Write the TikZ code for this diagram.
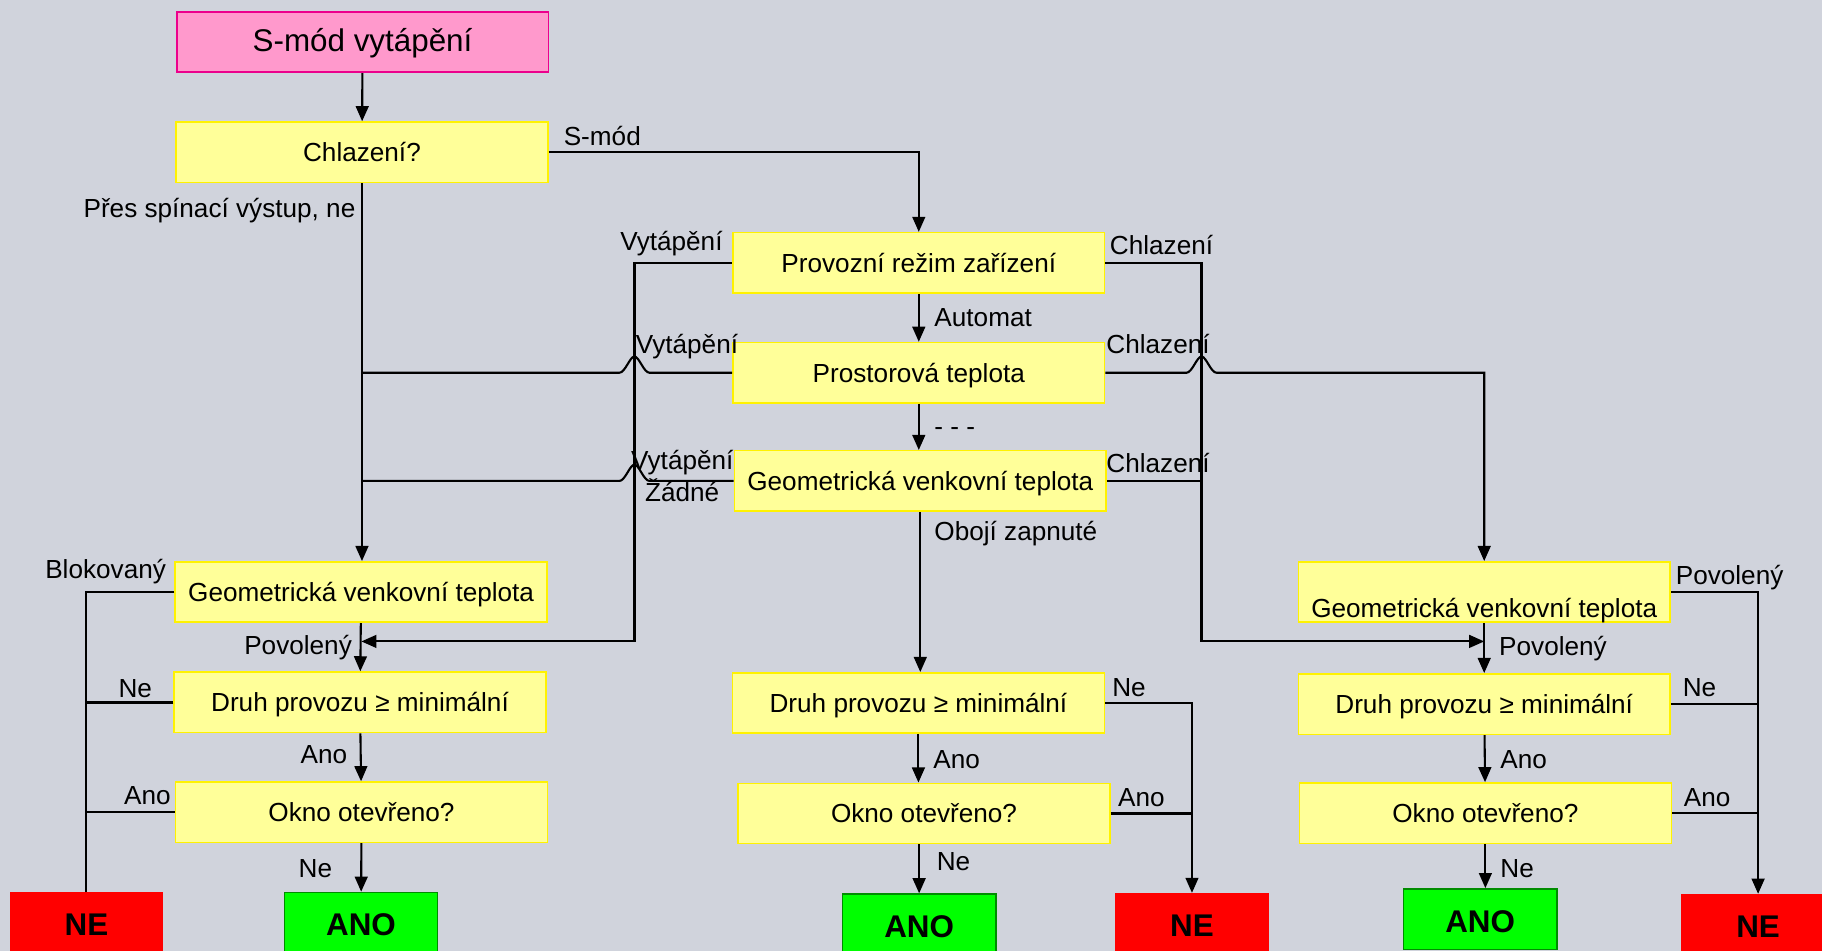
\documentclass[tikz,border=0pt]{standalone}
\usepackage{fontspec}
\setmainfont{Liberation Sans}
\usetikzlibrary{arrows.meta}

\definecolor{bggray}{RGB}{208,211,220}
\definecolor{boxyellow}{RGB}{255,255,153}
\definecolor{pinkfill}{RGB}{255,153,204}
\definecolor{darkgreen}{RGB}{0,140,0}

\begin{document}
\begin{tikzpicture}[
            x=1pt, y=-1pt,
            every node/.style={font=\fontsize{22.5}{27}\selectfont},
            cond node/.style={draw=yellow, fill=boxyellow, line width=1.3pt, minimum width=320pt, minimum height=52pt, inner sep=0pt, text height=17pt, text depth=1pt},
            start node/.style={cond node, draw=magenta, fill=pinkfill, line width=1.6pt, font=\fontsize{27}{32}\selectfont},
            end node/.style={minimum width=132pt, minimum height=52pt, inner sep=0pt, text height=23pt, text depth=0pt, font=\bfseries\fontsize{27}{32}\selectfont},
            yes node/.style={end node, fill=green, draw=darkgreen, line width=1.2pt},
            no node/.style={end node, fill=red},
            edge text/.style={inner sep=0pt, text height=16pt, text depth=0pt},
            flow/.style={line width=1.8pt},
            arr/.style={flow, -{Triangle[length=13pt,width=11pt]}},
            ]
            \fill[bggray] (0,0) rectangle (1568,818.4);
            \useasboundingbox (0,0) rectangle (1568,818.4);

            % boxes
            \node[start node] (smod) at (312,36.2) {S-mód vytápění};
            \node[cond node] (chl) at (311.5,131) {Chlazení?};
            \node[cond node] (prov) at (790.7,226.2) {Provozní režim zařízení};
            \node[cond node] (pt) at (790.7,320.8) {Prostorová teplota};
            \node[cond node] (gc) at (792,413.9) {Geometrická venkovní teplota};

            \node[cond node] (lgeo) at (310.8,509.5) {Geometrická venkovní teplota};
            \node[cond node] (ldruh) at (309.8,604.4) {Druh provozu ≥ minimální};
            \node[cond node] (lokno) at (311.1,699) {Okno otevřeno?};
            \node[no node] (lne) at (74.4,794) {NE};
            \node[yes node] (lano) at (310.7,794) {ANO};

            \node[cond node] (cdruh) at (790.4,605) {Druh provozu ≥ minimální};
            \node[cond node] (cokno) at (795.2,700.1) {Okno otevřeno?};
            \node[yes node] (cano) at (791,795.4) {ANO};
            \node[no node] (cne) at (1025.8,794.6) {NE};

            \node[cond node, text height=45pt, text depth=2pt] (rgeo) at (1277.3,509.5) {Geometrická venkovní teplota};
            \node[cond node] (rdruh) at (1277.3,605.9) {Druh provozu ≥ minimální};
            \node[cond node] (rokno) at (1278.3,699.8) {Okno otevřeno?};
            \node[yes node] (rano) at (1273.8,790.9) {ANO};
            \node[no node] (rne) at (1513,795.4) {NE};

            \coordinate (lbus) at (546,552);
            \coordinate (rbus) at (1034,552);
            \coordinate (lj) at (311,552);
            \coordinate (rj) at (1277.3,552);

            % connectors
            \draw[arr] (smod) -- (chl);
            \draw[arr] (chl.east) -| (prov);
            \draw[arr] (chl.south) -- (chl.south |- lgeo.north);
            \draw[arr] (prov.west) -| (lbus) -- (lj);
            \draw[arr] (prov.east) -| (rbus) -- (rj);
            \draw[arr] (prov) -- (pt);
            \draw[arr] (pt.south) -- (pt.south |- gc.north);
            \draw[flow] (pt.west) -- (559,320.8) .. controls (554,320.8) and (550,306.8) .. (546,306.8)
                .. controls (542,306.8) and (538,320.8) .. (533,320.8) -- (chl.south |- pt.west);
            \draw[arr] (pt.east) -- (1021,320.8) .. controls (1026,320.8) and (1030,306.8) .. (1034,306.8)
                .. controls (1038,306.8) and (1042,320.8) .. (1047,320.8) -- (rgeo.north |- pt.east) -- (rgeo.north);
            \draw[flow] (gc.west) -- (559,413.9) .. controls (554,413.9) and (550,399.9) .. (546,399.9)
                .. controls (542,399.9) and (538,413.9) .. (533,413.9) -- (chl.south |- gc.west);
            \draw[flow] (gc.east) -- (rbus |- gc.east);
            \draw[arr] (gc.south) -- (gc.south |- cdruh.north);

            \draw[flow] (lgeo.west) -| (lne.north);
            \draw[arr] (lgeo) -- (ldruh);
            \draw[flow, line width=2.4pt] (ldruh.west) -- (lne.north |- ldruh.west);
            \draw[arr] (ldruh) -- (lokno);
            \draw[flow] (lokno.west) -- (lne.north |- lokno.west);
            \draw[arr] (lokno) -- (lano);

            \draw[arr] (cdruh.east) -| (cne.north);
            \draw[arr] (cdruh.south) -- (cdruh.south |- cokno.north);
            \draw[flow] (cokno.east) -- (cne.north |- cokno.east);
            \draw[arr] (cano.north |- cokno.south) -- (cano.north);

            \draw[arr] (rgeo.east) -| (rne.north);
            \draw[arr] (rgeo) -- (rdruh);
            \draw[flow] (rdruh.east) -- (rne.north |- rdruh.east);
            \draw[arr] (rdruh) -- (rokno);
            \draw[flow] (rokno.east) -- (rne.north |- rokno.east);
            \draw[arr] (rokno.south) -- (rokno.south |- rano.north);

            % connector texts
            \node[edge text, anchor=west] (t1) at (485,117) {S-mód};
            \node[edge text, anchor=east] (t2) at (306,179) {Přes spínací výstup, ne};
            \node[edge text, anchor=east] (t3) at (622,207.5) {Vytápění};
            \node[edge text, anchor=west] (t4) at (955,211) {Chlazení};
            \node[edge text, anchor=west] (t5) at (804,273) {Automat};
            \node[edge text, anchor=west] (t6) at (547,296) {Vytápění};
            \node[edge text, anchor=west] (t7) at (952,296) {Chlazení};
            \node[edge text, anchor=west] (t8) at (804,367) {- - -};
            \node[edge text, anchor=west] (t9) at (543,396) {Vytápění};
            \node[edge text, anchor=west] (t10) at (555,424) {Žádné};
            \node[edge text, anchor=west] (t11) at (952,399) {Chlazení};
            \node[edge text, anchor=west] (t12) at (804,457) {Obojí zapnuté};
            \node[edge text, anchor=east] (t13) at (143,490) {Blokovaný};
            \node[edge text, anchor=east] (t14) at (303,555) {Povolený};
            \node[edge text, anchor=east] (t15) at (131,592) {Ne};
            \node[edge text, anchor=east] (t16) at (299,649) {Ano};
            \node[edge text, anchor=east] (t17) at (147,684) {Ano};
            \node[edge text, anchor=east] (t18) at (286,747) {Ne};
            \node[edge text, anchor=west] (t19) at (957,591) {Ne};
            \node[edge text, anchor=west] (t20) at (803,653) {Ano};
            \node[edge text, anchor=west] (t21) at (962,686) {Ano};
            \node[edge text, anchor=west] (t22) at (806,741) {Ne};
            \node[edge text, anchor=west] (t23) at (1442,495) {Povolený};
            \node[edge text, anchor=west] (t24) at (1290,556) {Povolený};
            \node[edge text, anchor=west] (t25) at (1448,591) {Ne};
            \node[edge text, anchor=west] (t26) at (1291,653) {Ano};
            \node[edge text, anchor=west] (t27) at (1449,686) {Ano};
            \node[edge text, anchor=west] (t28) at (1291,747) {Ne};
\end{tikzpicture}
\end{document}
